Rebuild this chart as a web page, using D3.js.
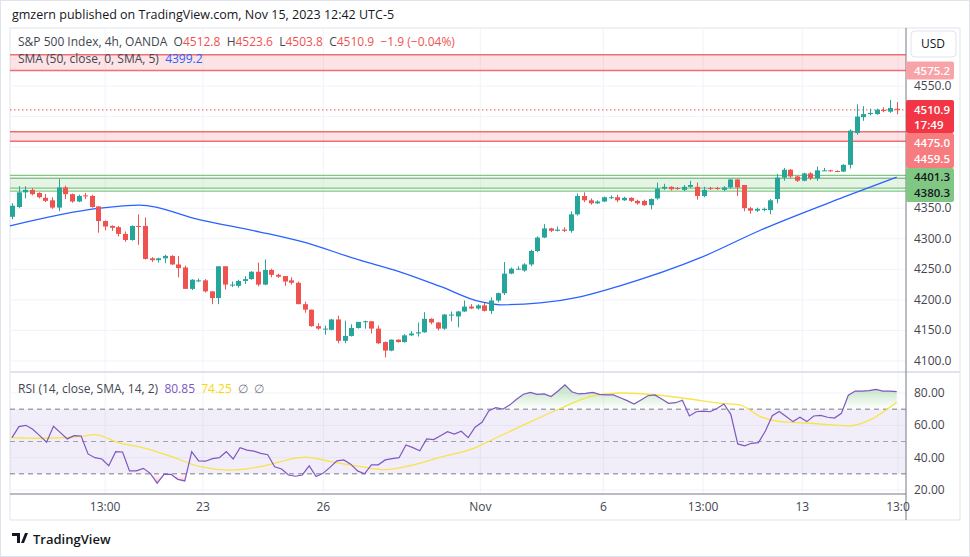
<!DOCTYPE html>
<html><head><meta charset="utf-8">
<script src="https://cdn.jsdelivr.net/npm/d3@7"></script>
<style>body{margin:0;background:#fff;font-family:"Open Sans","Noto Sans",sans-serif}</style>
</head><body><svg id="c" width="970" height="557"></svg>
<script>
const opens =[4336,4352,4376,4380,4375,4367,4363,4351,4384,4373,4361,4371,4370,4353,4329,4321,4319,4308,4298,4321,4321,4268,4265,4268,4272,4258,4253,4218,4232,4232,4214,4203,4255,4225,4223,4231,4234,4246,4225,4249,4241,4239,4232,4228,4193,4184,4157,4153,4151,4168,4133,4141,4154,4165,4165,4153,4131,4117,4135,4131,4142,4145,4147,4169,4163,4153,4176,4173,4181,4189,4186,4191,4182,4199,4211,4243,4251,4248,4258,4280,4302,4317,4313,4315,4313,4340,4370,4363,4358,4361,4368,4368,4363,4367,4362,4362,4355,4366,4382,4385,4383,4380,4385,4385,4370,4383,4383,4380,4384,4397,4388,4350,4346,4347,4347,4365,4400,4413,4402,4395,4407,4399,4412,4412,4411,4410,4421,4473,4499,4504,4504,4511,4508,4512.8];
const highs =[4358,4386,4386,4383,4376,4373,4368,4398,4387,4374,4372,4375,4372,4353,4330,4322,4321,4312,4322,4340,4335,4270,4269,4274,4273,4272,4256,4234,4235,4234,4214,4255,4255,4230,4233,4239,4247,4261,4266,4251,4243,4239,4237,4230,4197,4184,4162,4158,4169,4174,4166,4160,4164,4166,4165,4158,4132,4135,4135,4144,4149,4163,4180,4170,4164,4177,4181,4182,4199,4193,4193,4195,4204,4212,4262,4253,4255,4260,4282,4304,4324,4318,4320,4319,4345,4374,4376,4366,4363,4369,4371,4372,4369,4368,4364,4364,4366,4392,4390,4386,4385,4388,4395,4392,4385,4385,4385,4386,4398,4398,4388,4352,4351,4351,4365,4406,4416,4414,4403,4408,4409,4418,4416,4413,4412,4422,4479,4520,4517,4513,4513,4515,4527,4523.6];
const lows  =[4332,4350,4366,4371,4366,4360,4349,4345,4365,4359,4360,4365,4351,4310,4314,4313,4304,4295,4297,4290,4266,4262,4261,4260,4257,4237,4218,4216,4229,4212,4193,4193,4217,4221,4220,4226,4233,4222,4224,4237,4236,4223,4225,4193,4179,4156,4151,4143,4150,4129,4129,4140,4153,4153,4145,4128,4106,4116,4130,4130,4141,4140,4146,4160,4150,4151,4165,4155,4180,4185,4184,4181,4177,4196,4208,4242,4249,4246,4255,4278,4301,4311,4312,4311,4310,4338,4360,4356,4357,4360,4365,4360,4362,4360,4356,4354,4348,4364,4380,4379,4380,4378,4383,4364,4368,4380,4380,4378,4382,4370,4345,4341,4344,4345,4340,4358,4395,4399,4393,4394,4396,4395,4411,4410,4409,4409,4415,4470,4493,4502,4503,4507,4506,4503.8];
const closes=[4354,4376,4380,4373,4368,4362,4351,4384,4373,4361,4370,4370,4352,4329,4320,4318,4308,4298,4321,4320,4267,4265,4268,4272,4258,4252,4218,4233,4232,4214,4203,4255,4225,4225,4231,4234,4246,4225,4249,4241,4238,4230,4228,4193,4184,4157,4153,4153,4168,4133,4141,4154,4164,4165,4153,4129,4117,4135,4131,4142,4145,4147,4169,4163,4153,4176,4176,4181,4189,4186,4191,4182,4199,4211,4243,4251,4251,4258,4280,4302,4317,4313,4315,4313,4340,4370,4363,4358,4361,4368,4368,4363,4367,4362,4358,4355,4365,4382,4385,4381,4382,4385,4388,4370,4380,4382,4382,4384,4397,4384,4350,4346,4349,4349,4363,4400,4413,4402,4395,4407,4399,4412,4412,4411,4410,4421,4477,4500,4504,4506,4511,4509,4514,4510.9];
const smaIdx=[-0.3,13.2,19.2,28.3,37.3,43.3,52.3,58.3,64.4,70.4,73.4,79.4,85.4,91.4,103.5,112.5,125,133];
const smaVals=[4321,4350,4355,4331,4311,4296,4265,4246,4222,4197,4192,4195,4205,4223,4269,4314,4368,4401];
const rsiVals=[52.4,59.2,60,57.6,53.6,49.5,59.4,55.5,51.6,53.6,53.4,42.3,40,39.2,35,43.7,43.5,31.8,31.8,33.4,30.3,24.2,29.7,29.7,26.6,25.6,43.7,38,37.8,39.4,40,43.7,39.2,46.2,44.7,44,42.7,41.8,34.4,33,29.3,28.5,29.3,34.9,28.3,30.3,34,38,38.6,36,31.8,30,35.6,35.6,38.6,39.4,40,47.8,46.2,44.3,51.6,51.2,53.6,56.1,54.6,56.3,
 52.4,58.8,61.9,69,70.9,70,72.5,76.1,79.2,80.4,79.2,79.4,77.8,81.2,85.1,80.8,79.4,79.8,80.4,79.2,78.8,78.8,77.1,75.3,73.2,75.7,78.3,78.8,76.3,73.6,74,75.5,65.8,68.4,68.8,68.4,70.4,73.2,66.8,48.5,47.3,48.9,49.3,56.5,66,68.6,65.4,62.3,65,62.3,65.8,66.2,65,64.5,67.4,78.6,81.2,81.2,81.5,82.2,81.2,81.2,80.85];
const rsiMaIdx=[-0.2,4.2,10.2,12.5,16.2,19.2,23.8,28.3,32.8,37.3,41.8,44.1,47.9,52.3,56.1,59.8,64.4,70.1,70.4,76.4,82.4,86.9,91.4,97.4,101.9,106.5,109.5,112.5,115.5,120,123,125.9,129,133];
const rsiMaVals=[52.4,52,53,54.3,49,46.7,40.9,34.4,32.3,34.4,39,40.3,37.6,34.6,32.6,35,40.3,47,47.6,59.2,70.4,77.8,80,78.6,76.3,73.6,72.5,65.4,62.3,61.3,60.3,59.7,63.4,74.3];
const priceTicks=[4550,4350,4300,4250,4200,4150,4100];
const rsiTicks=[80,60,40,20];
const timeTickIdx=[14,28.7,46.8,70.4,88.9,103.9,118.8,133.2];
const timeTickLabels=["13:00","23","26","Nov","6","13:00","13","13:0"];
const zonesRed=[[4601,4575.2],[4475.0,4459.5]];
const zoneGreen=[4401.3,4380.3];

const svg=d3.select("#c");
const L=10,R=906,PT=28,RT=372,RB=494;
const x=d3.scaleLinear().domain([0,133]).range([12,896.7]);
const y=d3.scaleLinear().domain([4100,4550]).range([361,86]);
const yr=d3.scaleLinear().domain([20,80]).range([490,393]);
const GREEN="#26a69a",RED="#ef5350";
svg.append("rect").attr("x",0.5).attr("y",0.5).attr("width",969).attr("height",556).attr("fill","#fff").attr("stroke","#e0e3eb");
svg.append("rect").attr("x",L).attr("y",PT).attr("width",950).attr("height",492).attr("fill","#fff").attr("stroke","#e0e3eb");
svg.append("text").attr("x",12).attr("y",19).attr("font-size",12.5).attr("fill","#131722").text("gmzern published on TradingView.com, Nov 15, 2023 12:42 UTC-5");
const gg=svg.append("g").attr("stroke","#f0f3fa");
timeTickIdx.forEach(t=>gg.append("line").attr("x1",x(t)).attr("x2",x(t)).attr("y1",PT).attr("y2",RB));
priceTicks.concat([4500,4450,4400]).forEach(v=>gg.append("line").attr("x1",L).attr("x2",R).attr("y1",y(v)).attr("y2",y(v)));
rsiTicks.forEach(v=>gg.append("line").attr("x1",L).attr("x2",R).attr("y1",yr(v)).attr("y2",yr(v)));
zonesRed.forEach(z=>{
 svg.append("rect").attr("x",L).attr("width",R-L).attr("y",y(z[0])).attr("height",y(z[1])-y(z[0])).attr("fill","rgba(242,54,69,0.14)");
 z.forEach(v=>svg.append("line").attr("x1",L).attr("x2",R).attr("y1",y(v)).attr("y2",y(v)).attr("stroke","#f06e74").attr("stroke-width",1.5));
});
svg.append("rect").attr("x",L).attr("width",R-L).attr("y",y(zoneGreen[0])).attr("height",y(zoneGreen[1])-y(zoneGreen[0])).attr("fill","rgba(76,175,80,0.14)");
zoneGreen.forEach(v=>[-1.5,1.5].forEach(o=>svg.append("line").attr("x1",L).attr("x2",R).attr("y1",y(v)+o).attr("y2",y(v)+o).attr("stroke","#81c784").attr("stroke-width",1.2)));
svg.append("line").attr("x1",L).attr("x2",R).attr("y1",y(4510.9)).attr("y2",y(4510.9)).attr("stroke",RED).attr("stroke-dasharray","1.5,2.5");
svg.append("path").datum(smaIdx.map((d,i)=>[d,smaVals[i]])).attr("fill","none").attr("stroke","#2962ff").attr("stroke-width",1.3)
 .attr("d",d3.line().x(d=>x(d[0])).y(d=>y(d[1])).curve(d3.curveMonotoneX));
const cg=svg.append("g");
closes.forEach((c,i)=>{
 const o=opens[i],col=c>=o?GREEN:RED,cx=Math.round(x(i))+0.5;
 cg.append("line").attr("x1",cx).attr("x2",cx).attr("y1",y(highs[i])).attr("y2",y(lows[i])).attr("stroke",col);
 const t=y(Math.max(o,c)),b=y(Math.min(o,c));
 cg.append("rect").attr("x",cx-2.5).attr("width",5).attr("y",t).attr("height",Math.max(1,b-t)).attr("fill",col);
});
const lg=svg.append("text").attr("x",18).attr("y",46).attr("font-size",12).attr("fill","#434651").attr("xml:space","preserve");
lg.append("tspan").text("S&P 500 Index, 4h, OANDA  O");
[["4512.8","  H"],["4523.6","  L"],["4503.8","  C"],["4510.9","  "],["−1.9 (−0.04%)",""]].forEach(p=>{lg.append("tspan").attr("fill",RED).text(p[0]);lg.append("tspan").text(p[1]);});
const lg2=svg.append("text").attr("x",18).attr("y",63).attr("font-size",12).attr("fill","#434651").attr("xml:space","preserve");
lg2.append("tspan").text("SMA (50, close, 0, SMA, 5)  ");lg2.append("tspan").attr("fill","#2962ff").text("4399.2");
svg.append("line").attr("x1",L).attr("x2",960).attr("y1",RT).attr("y2",RT).attr("stroke","#e0e3eb").attr("stroke-width",2);
svg.append("line").attr("x1",L).attr("x2",R).attr("y1",RB).attr("y2",RB).attr("stroke","#787b86");
svg.append("line").attr("x1",R).attr("x2",R).attr("y1",PT).attr("y2",520).attr("stroke","#787b86");
const rg=svg.append("g");
rg.append("rect").attr("x",L).attr("width",R-L).attr("y",yr(70)).attr("height",yr(30)-yr(70)).attr("fill","rgba(126,87,194,0.1)");
[70,50,30].forEach(v=>rg.append("line").attr("x1",L).attr("x2",R).attr("y1",yr(v)).attr("y2",yr(v)).attr("stroke",v==50?"#a0a3ab":"#787b86").attr("stroke-dasharray","5,4"));
const rx=i=>x(i*133/(rsiVals.length-1));
const defs=svg.append("defs");
const gr=defs.append("linearGradient").attr("id","gU").attr("gradientUnits","userSpaceOnUse").attr("x1",0).attr("x2",0).attr("y1",yr(86)).attr("y2",yr(70));
gr.append("stop").attr("offset","0%").attr("stop-color","rgba(76,175,80,0.4)");gr.append("stop").attr("offset","100%").attr("stop-color","rgba(76,175,80,0)");
const gr2=defs.append("linearGradient").attr("id","gD").attr("gradientUnits","userSpaceOnUse").attr("x1",0).attr("x2",0).attr("y1",yr(30)).attr("y2",yr(22));
gr2.append("stop").attr("offset","0%").attr("stop-color","rgba(242,54,69,0)");gr2.append("stop").attr("offset","100%").attr("stop-color","rgba(242,54,69,0.4)");
defs.append("clipPath").attr("id","cu").append("rect").attr("x",L).attr("y",yr(90)).attr("width",R-L).attr("height",yr(70)-yr(90));
defs.append("clipPath").attr("id","cd").append("rect").attr("x",L).attr("y",yr(30)).attr("width",R-L).attr("height",yr(10)-yr(30));
rg.append("path").datum(rsiVals).attr("clip-path","url(#cu)").attr("fill","url(#gU)").attr("d",d3.area().x((d,i)=>rx(i)).y0(yr(70)).y1(d=>yr(d)));
rg.append("path").datum(rsiVals).attr("clip-path","url(#cd)").attr("fill","url(#gD)").attr("d",d3.area().x((d,i)=>rx(i)).y0(yr(30)).y1(d=>yr(d)));
rg.append("path").datum(rsiMaIdx.map((d,i)=>[d,rsiMaVals[i]])).attr("fill","none").attr("stroke","#f7e34a").attr("stroke-width",1.3).attr("d",d3.line().x(d=>x(d[0])).y(d=>yr(d[1])).curve(d3.curveMonotoneX));
rg.append("path").datum(rsiVals).attr("fill","none").attr("stroke","#7e57c2").attr("stroke-width",1.2).attr("d",d3.line().x((d,i)=>rx(i)).y(d=>yr(d)));
const rl=svg.append("text").attr("x",18).attr("y",393).attr("font-size",12).attr("fill","#434651").attr("xml:space","preserve");
rl.append("tspan").text("RSI (14, close, SMA, 14, 2)  ");rl.append("tspan").attr("fill","#7e57c2").text("80.85  ");rl.append("tspan").attr("fill","#f5d90a").text("74.25  ");rl.append("tspan").attr("fill","#787b86").text("∅  ∅");
const ax=svg.append("g").attr("font-size",12).attr("fill","#434651");
priceTicks.forEach(v=>ax.append("text").attr("x",914).attr("y",y(v)+4).text(v.toFixed(1)));
rsiTicks.forEach(v=>ax.append("text").attr("x",914).attr("y",yr(v)+4).text(v.toFixed(2)));
timeTickIdx.forEach((t,i)=>ax.append("text").attr("x",x(t)).attr("y",511).attr("text-anchor","middle").text(timeTickLabels[i]));
svg.append("rect").attr("x",911).attr("y",31).attr("width",45).attr("height",26).attr("rx",4).attr("fill","#fff").attr("stroke","#e0e3eb");
svg.append("text").attr("x",933).attr("y",48).attr("text-anchor","middle").attr("font-size",12).attr("fill","#131722").text("USD");
function box(y0,h,fill,texts,col){svg.append("rect").attr("x",R).attr("y",y0).attr("width",48).attr("height",h).attr("rx",2).attr("fill",fill);
 texts.forEach(t=>svg.append("text").attr("x",914).attr("y",t[1]).attr("font-size",11.5).attr("font-weight",600).attr("fill",col).text(t[0]));}
const yl=y(4510.9);
box(y(4575.2)-9,18,"#f7a3a8",[["4575.2",y(4575.2)+4]],"#fff");
box(yl+23,35,"#f77c80",[["4475.0",yl+37],["4459.5",yl+53]],"#fff");
box(yl-10,33,"#f23645",[["4510.9",yl+4],["17:49",yl+19]],"#fff");
box(yl+58,34,"#81c784",[["4401.3",yl+71],["4380.3",yl+87]],"#131722");
const ft=svg.append("g").attr("transform","translate(12,533)");
ft.append("path").attr("d","M0 0h8v10h-3v-7h-5z M9 10l4-10h3l-4 10z").attr("fill","#131722");
ft.append("text").attr("x",21).attr("y",11).attr("font-size",13).attr("font-weight",600).attr("fill","#131722").text("TradingView");
</script></body></html>
